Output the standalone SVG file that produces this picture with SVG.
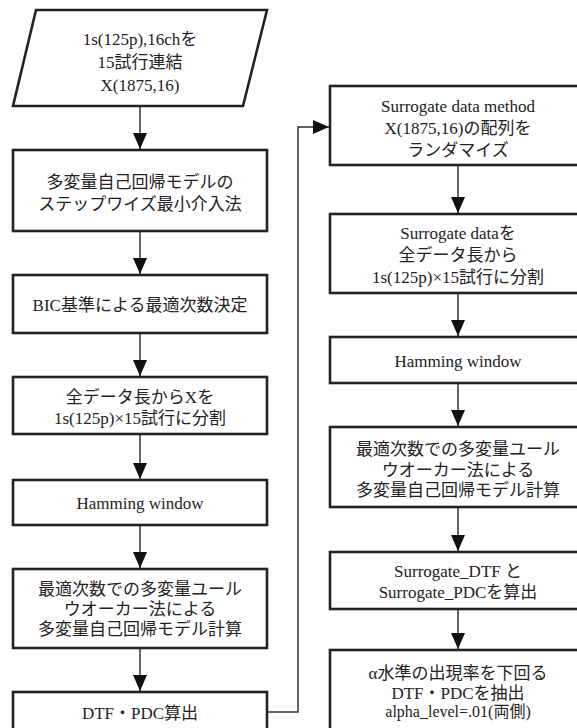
<svg xmlns="http://www.w3.org/2000/svg" width="577" height="728" viewBox="0 0 577 728">
<style>
  .box { fill: #fff; stroke: #222; stroke-width: 2.6; }
  .t { font-family: "Liberation Serif", "Noto Sans CJK JP", serif; font-size: 17px; fill: #222; text-anchor: middle; }
  .s { font-size: 16px; }
  .c { fill: none; stroke: #333; stroke-width: 1.5; }
</style>
<defs>
  <marker id="ah" markerUnits="userSpaceOnUse" markerWidth="16" markerHeight="14" refX="16" refY="7" orient="auto">
    <path d="M0,0 L16,7 L0,14 z" fill="#111"/>
  </marker>
</defs>
<rect width="577" height="728" fill="#fff"/>
<g id="connectors">
  <line class="c" x1="140" y1="106" x2="140" y2="149" marker-end="url(#ah)"/>
  <line class="c" x1="140" y1="231" x2="140" y2="274" marker-end="url(#ah)"/>
  <line class="c" x1="140" y1="333" x2="140" y2="376" marker-end="url(#ah)"/>
  <line class="c" x1="140" y1="434" x2="140" y2="479" marker-end="url(#ah)"/>
  <line class="c" x1="140" y1="525" x2="140" y2="568" marker-end="url(#ah)"/>
  <line class="c" x1="140" y1="648" x2="140" y2="691" marker-end="url(#ah)"/>
  <polyline class="c" points="267,712 298,712 298,127 329,127" marker-end="url(#ah)"/>
  <line class="c" x1="458" y1="165" x2="458" y2="213" marker-end="url(#ah)"/>
  <line class="c" x1="458" y1="293" x2="458" y2="336" marker-end="url(#ah)"/>
  <line class="c" x1="458" y1="383" x2="458" y2="426" marker-end="url(#ah)"/>
  <line class="c" x1="458" y1="507" x2="458" y2="551" marker-end="url(#ah)"/>
  <line class="c" x1="458" y1="609" x2="458" y2="649" marker-end="url(#ah)"/>
</g>
<g id="n1">
  <polygon class="box" points="36,10 267,10 243,106 13,106"/>
  <text class="t" x="140" y="45">1s(125p),16chを</text>
  <text class="t" x="140" y="68">15試行連結</text>
  <text class="t" x="140" y="91">X(1875,16)</text>
</g>
<g id="n2">
  <rect class="box" x="13" y="150" width="254" height="81"/>
  <text class="t" x="140" y="188">多変量自己回帰モデルの</text>
  <text class="t" x="140" y="210">ステップワイズ最小介入法</text>
</g>
<g id="n3">
  <rect class="box" x="13" y="275" width="254" height="58"/>
  <text class="t" x="140" y="311">BIC基準による最適次数決定</text>
</g>
<g id="n4">
  <rect class="box" x="13" y="377" width="254" height="57"/>
  <text class="t" x="140" y="403">全データ長からXを</text>
  <text class="t" x="140" y="424">1s(125p)×15試行に分割</text>
</g>
<g id="n5">
  <rect class="box" x="13" y="480" width="254" height="45"/>
  <text class="t" x="140" y="509">Hamming window</text>
</g>
<g id="n6">
  <rect class="box" x="13" y="569" width="254" height="79"/>
  <text class="t" x="140" y="595">最適次数での多変量ユール</text>
  <text class="t" x="140" y="615">ウオーカー法による</text>
  <text class="t" x="140" y="635">多変量自己回帰モデル計算</text>
</g>
<g id="n7">
  <rect class="box" x="13" y="692" width="254" height="60"/>
  <text class="t" x="140" y="719">DTF・PDC算出</text>
</g>
<g id="r1">
  <rect class="box" x="330" y="86" width="254" height="79"/>
  <text class="t" x="458" y="112">Surrogate data method</text>
  <text class="t" x="458" y="134">X(1875,16)の配列を</text>
  <text class="t" x="458" y="156">ランダマイズ</text>
</g>
<g id="r2">
  <rect class="box" x="330" y="214" width="254" height="79"/>
  <text class="t" x="458" y="239">Surrogate dataを</text>
  <text class="t" x="458" y="261">全データ長から</text>
  <text class="t" x="458" y="283">1s(125p)×15試行に分割</text>
</g>
<g id="r3">
  <rect class="box" x="330" y="337" width="254" height="46"/>
  <text class="t" x="458" y="367">Hamming window</text>
</g>
<g id="r4">
  <rect class="box" x="330" y="427" width="254" height="80"/>
  <text class="t" x="458" y="455">最適次数での多変量ユール</text>
  <text class="t" x="458" y="476">ウオーカー法による</text>
  <text class="t" x="458" y="496">多変量自己回帰モデル計算</text>
</g>
<g id="r5">
  <rect class="box" x="330" y="552" width="254" height="57"/>
  <text class="t" x="458" y="577">Surrogate_DTF と</text>
  <text class="t" x="458" y="598">Surrogate_PDCを算出</text>
</g>
<g id="r6">
  <rect class="box" x="330" y="650" width="254" height="100"/>
  <text class="t" x="458" y="679">α水準の出現率を下回る</text>
  <text class="t" x="458" y="699">DTF・PDCを抽出</text>
  <text class="t s" x="458" y="717">alpha_level=.01(両側)</text>
</g>
</svg>
